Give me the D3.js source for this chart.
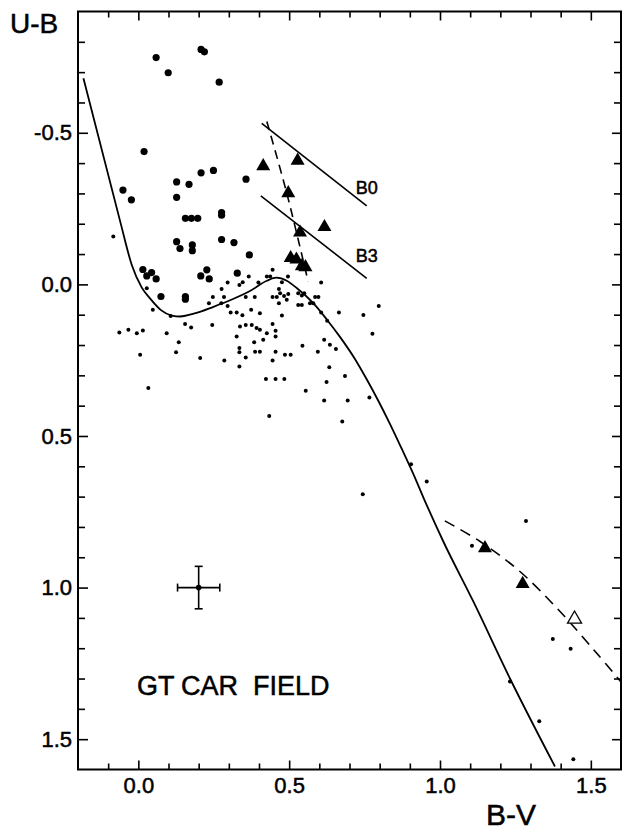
<!DOCTYPE html>
<html>
<head>
<meta charset="utf-8">
<script src="https://cdn.jsdelivr.net/npm/d3@7"></script>
<style>
  html, body { margin: 0; padding: 0; background: #fff; }
  svg { display: block; }
  text { font-family: "Liberation Sans", Arial, sans-serif; fill: #000; stroke: #000; stroke-width: 0.5px; }
</style>
</head>
<body>
<svg id="chart" width="623" height="833"></svg>
<script>
// Two-colour diagram of the GT Car field: U-B against B-V.

// Stars measured with larger symbols (B-V, U-B)
const bigStars = [
  [0.059,-0.748],[0.099,-0.698],[0.208,-0.775],[0.219,-0.767],[0.268,-0.667],
  [0.019,-0.438],[0.208,-0.368],[0.249,-0.376],[0.357,-0.347],[0.127,-0.338],
  [0.168,-0.330],[-0.051,-0.311],[-0.023,-0.279],[0.127,-0.287],
  [0.156,-0.218],[0.176,-0.218],[0.197,-0.218],[0.276,-0.237],[0.276,-0.228],
  [0.127,-0.141],[0.138,-0.118],[0.179,-0.130],[0.179,-0.111],[0.276,-0.148],
  [0.317,-0.138],[0.368,-0.097],[0.015,-0.049],[0.044,-0.039],[0.028,-0.028],
  [0.059,-0.018],[0.075,0.040],[0.156,0.040],[0.156,0.049],[0.207,-0.028],
  [0.227,-0.048],[0.235,-0.018],[0.328,-0.037]
];

// Field stars (small symbols)
const smallStars = [
  [-0.083,-0.158],[0.028,0.013],[0.048,0.084],[0.107,0.104],[-0.063,0.159],
  [-0.033,0.150],[-0.005,0.161],[0.015,0.152],[0.006,0.232],[0.033,0.342],
  [0.094,0.161],[0.134,0.191],[0.125,0.224],[0.155,0.131],[0.175,0.142],
  [0.205,0.243],[0.245,0.134],[0.234,0.062],[0.247,0.042],[0.276,0.015],
  [0.296,-0.006],[0.284,0.042],[0.275,0.062],[0.296,0.071],[0.285,0.251],
  [0.306,0.093],[0.326,0.093],[0.345,0.102],[0.335,0.002],[0.346,-0.007],
  [0.366,-0.026],[0.356,0.042],[0.386,0.042],[0.374,0.084],[0.398,-0.006],
  [0.426,-0.026],[0.437,-0.026],[0.445,-0.048],[0.466,0.015],[0.476,-0.007],
  [0.496,-0.026],[0.445,0.042],[0.459,0.042],[0.470,0.029],[0.483,0.038],
  [0.492,0.051],[0.497,0.032],[0.466,0.062],[0.476,0.103],[0.530,0.029],
  [0.542,0.037],[0.550,0.029],[0.530,0.068],[0.542,0.068],[0.569,0.062],
  [0.586,0.042],[0.597,0.042],[0.580,0.062],[0.606,-0.006],[0.606,0.093],
  [0.626,0.120],[0.665,0.093],[0.746,0.101],[0.797,0.071],[0.776,0.163],
  [0.326,0.172],[0.337,0.139],[0.356,0.134],[0.376,0.134],[0.403,0.095],
  [0.392,0.144],[0.403,0.150],[0.426,0.161],[0.335,0.210],[0.335,0.224],
  [0.356,0.241],[0.335,0.271],[0.384,0.191],[0.387,0.222],[0.403,0.222],
  [0.414,0.183],[0.445,0.131],[0.455,0.153],[0.455,0.172],[0.445,0.251],
  [0.455,0.222],[0.486,0.232],[0.505,0.232],[0.544,0.202],[0.595,0.222],
  [0.616,0.183],[0.635,0.199],[0.655,0.213],[0.633,0.273],[0.685,0.302],
  [0.624,0.322],[0.423,0.312],[0.455,0.312],[0.484,0.312],[0.555,0.351],
  [0.616,0.383],[0.694,0.383],[0.766,0.373],[0.434,0.434],[0.676,0.452],
  [0.744,0.692],[0.904,0.593],[0.956,0.650],[1.285,0.780],[1.106,0.862],
  [1.374,1.170],[1.433,1.202],[1.232,1.310],[1.329,1.441],[1.442,1.566]
];

// Filled triangles and the one open triangle
const triangles = [
  [0.414,-0.390],[0.528,-0.408],[0.497,-0.301],[0.617,-0.189],[0.536,-0.171],
  [0.505,-0.087],[0.524,-0.082],[0.542,-0.060],[0.554,-0.057],
  [1.149,0.870],[1.274,0.988]
];
const openTriangles = [[1.446,1.104]];

// Intrinsic main-sequence relation (solid curve)
const mainSequence = [
  [-0.182,-0.680],[-0.060,-0.207],[-0.022,-0.065],[0.011,0.010],[0.040,0.048],
  [0.075,0.085],[0.111,0.103],[0.138,0.106],[0.190,0.095],[0.249,0.074],
  [0.310,0.050],[0.370,0.022],[0.426,-0.012],[0.458,-0.022],[0.492,-0.012],
  [0.525,0.012],[0.580,0.062],[0.624,0.115],[0.669,0.174],[0.718,0.246],
  [0.757,0.313],[0.795,0.383],[0.834,0.460],[0.873,0.542],[0.910,0.622],
  [0.945,0.703],[1.011,0.848],[1.110,1.045],[1.234,1.304],[1.381,1.590]
];

// Reddening lines for B0 and B3 stars
const reddeningB0 = [[0.409,-0.531],[0.757,-0.259]];
const reddeningB3 = [[0.406,-0.292],[0.757,-0.020]];

// Dashed sequences
const dashedUpper = [[0.426,-0.537],[0.492,-0.301],[0.563,-0.009]];
const dashedLower = [[1.016,0.780],[1.133,0.848],[1.265,0.947],[1.398,1.079],[1.519,1.216],[1.600,1.311]];

// Typical error bar
const errorPoint = [0.20, 1.00];
const errorSize = [0.07, 0.07];

// Axis ticks
const xMajorTicks = [0.0, 0.5, 1.0, 1.5];
const yMajorTicks = [-0.5, 0.0, 0.5, 1.0, 1.5];
const xMinorTicks = [-0.1,0.1,0.2,0.3,0.4,0.6,0.7,0.8,0.9,1.1,1.2,1.3,1.4];
const yMinorTicks = [-0.8,-0.7,-0.6,-0.4,-0.3,-0.2,-0.1,0.1,0.2,0.3,0.4,0.6,0.7,0.8,0.9,1.1,1.2,1.3,1.4];

const svg = d3.select("#chart");
const x = d3.scaleLinear().domain([-0.2, 1.6]).range([78, 621]);
const y = d3.scaleLinear().domain([-0.9, 1.6]).range([11.5, 769.5]);
const fmt = d => d.toFixed(1);

// Frame
svg.append("rect")
  .attr("x", x(-0.2)).attr("y", y(-0.9))
  .attr("width", x(1.6) - x(-0.2)).attr("height", y(1.6) - y(-0.9))
  .attr("fill", "none").attr("stroke", "#000").attr("stroke-width", 2);

function styleAxis(g) {
  g.select(".domain").remove();
  g.selectAll(".tick line").attr("stroke", "#000").attr("stroke-width", 1.6);
}

// Bottom axis
svg.append("g").attr("transform", `translate(0,${y(1.6)})`)
  .call(d3.axisBottom(x).tickValues(xMinorTicks).tickSize(-6).tickFormat(""))
  .call(styleAxis);
svg.append("g").attr("transform", `translate(0,${y(1.6)})`)
  .call(d3.axisBottom(x).tickValues(xMajorTicks).tickSize(-9).tickPadding(8).tickFormat(fmt))
  .call(styleAxis)
  .call(g => g.selectAll("text").attr("font-size", 22).attr("fill", "#000"));

// Top axis
svg.append("g").attr("transform", `translate(0,${y(-0.9)})`)
  .call(d3.axisTop(x).tickValues(xMinorTicks).tickSize(-6).tickFormat(""))
  .call(styleAxis);
svg.append("g").attr("transform", `translate(0,${y(-0.9)})`)
  .call(d3.axisTop(x).tickValues(xMajorTicks).tickSize(-9).tickFormat(""))
  .call(styleAxis);

// Left axis
svg.append("g").attr("transform", `translate(${x(-0.2)},0)`)
  .call(d3.axisLeft(y).tickValues(yMinorTicks).tickSize(-7).tickFormat(""))
  .call(styleAxis);
svg.append("g").attr("transform", `translate(${x(-0.2)},0)`)
  .call(d3.axisLeft(y).tickValues(yMajorTicks).tickSize(-10).tickPadding(6).tickFormat(fmt))
  .call(styleAxis)
  .call(g => g.selectAll("text").attr("font-size", 22).attr("fill", "#000"));

// Right axis
svg.append("g").attr("transform", `translate(${x(1.6)},0)`)
  .call(d3.axisRight(y).tickValues(yMinorTicks).tickSize(-7).tickFormat(""))
  .call(styleAxis);
svg.append("g").attr("transform", `translate(${x(1.6)},0)`)
  .call(d3.axisRight(y).tickValues(yMajorTicks).tickSize(-9).tickFormat(""))
  .call(styleAxis);

// Axis titles
svg.append("text").attr("x", 10).attr("y", 33).attr("font-size", 28).text("U-B");
svg.append("text").attr("x", 486).attr("y", 825).attr("font-size", 30).text("B-V");

const plot = svg.append("g");

// Main sequence
plot.append("path").datum(mainSequence)
  .attr("d", d3.line().x(d => x(d[0])).y(d => y(d[1])).curve(d3.curveMonotoneX))
  .attr("fill", "none").attr("stroke", "#000").attr("stroke-width", 1.8);

// Reddening lines
const straight = d3.line().x(d => x(d[0])).y(d => y(d[1]));
[reddeningB0, reddeningB3].forEach(seg => {
  plot.append("path").datum(seg).attr("d", straight)
    .attr("fill", "none").attr("stroke", "#000").attr("stroke-width", 1.6);
});
svg.append("text").attr("x", x(reddeningB0[1][0]) - 11).attr("y", y(reddeningB0[1][1]) - 12)
  .attr("font-size", 18).text("B0");
svg.append("text").attr("x", x(reddeningB3[1][0]) - 11).attr("y", y(reddeningB3[1][1]) - 16)
  .attr("font-size", 18).text("B3");

// Dashed sequences
plot.append("path").datum(dashedUpper)
  .attr("d", d3.line().x(d => x(d[0])).y(d => y(d[1])).curve(d3.curveCatmullRom))
  .attr("fill", "none").attr("stroke", "#000").attr("stroke-width", 1.6)
  .attr("stroke-dasharray", "9,6");
plot.append("path").datum(dashedLower)
  .attr("d", d3.line().x(d => x(d[0])).y(d => y(d[1])).curve(d3.curveCatmullRom))
  .attr("fill", "none").attr("stroke", "#000").attr("stroke-width", 1.6)
  .attr("stroke-dasharray", "11,7");

// Stars
plot.selectAll("circle.small").data(smallStars).join("circle")
  .attr("class", "small")
  .attr("cx", d => x(d[0])).attr("cy", d => y(d[1])).attr("r", 2).attr("fill", "#000");
plot.selectAll("circle.big").data(bigStars).join("circle")
  .attr("class", "big")
  .attr("cx", d => x(d[0])).attr("cy", d => y(d[1])).attr("r", 3.6).attr("fill", "#000");

const tri = d3.symbol().type(d3.symbolTriangle).size(85);
plot.selectAll("path.tri").data(triangles).join("path")
  .attr("class", "tri")
  .attr("transform", d => `translate(${x(d[0])},${y(d[1])})`)
  .attr("d", tri).attr("fill", "#000");
plot.selectAll("path.otri").data(openTriangles).join("path")
  .attr("class", "otri")
  .attr("transform", d => `translate(${x(d[0])},${y(d[1])})`)
  .attr("d", tri).attr("fill", "#fff").attr("stroke", "#000").attr("stroke-width", 1.3);

// Error bar
const ex = x(errorPoint[0]), ey = y(errorPoint[1]);
const ex0 = x(errorPoint[0] - errorSize[0]), ex1 = x(errorPoint[0] + errorSize[0]);
const ey0 = y(errorPoint[1] - errorSize[1]), ey1 = y(errorPoint[1] + errorSize[1]);
const eb = plot.append("g").attr("stroke", "#000").attr("stroke-width", 1.6);
eb.append("line").attr("x1", ex0).attr("x2", ex1).attr("y1", ey).attr("y2", ey);
eb.append("line").attr("x1", ex).attr("x2", ex).attr("y1", ey0).attr("y2", ey1);
eb.append("line").attr("x1", ex0).attr("x2", ex0).attr("y1", ey - 4).attr("y2", ey + 4);
eb.append("line").attr("x1", ex1).attr("x2", ex1).attr("y1", ey - 4).attr("y2", ey + 4);
eb.append("line").attr("x1", ex - 4).attr("x2", ex + 4).attr("y1", ey0).attr("y2", ey0);
eb.append("line").attr("x1", ex - 4).attr("x2", ex + 4).attr("y1", ey1).attr("y2", ey1);
plot.append("circle").attr("cx", ex).attr("cy", ey).attr("r", 2.8).attr("fill", "#000");

// Field name
const title = svg.append("text").attr("y", 695).attr("font-size", 27);
title.append("tspan").attr("x", 137).text("GT");
title.append("tspan").attr("x", 181).text("CAR");
title.append("tspan").attr("x", 253).text("FIELD");
</script>
</body>
</html>
